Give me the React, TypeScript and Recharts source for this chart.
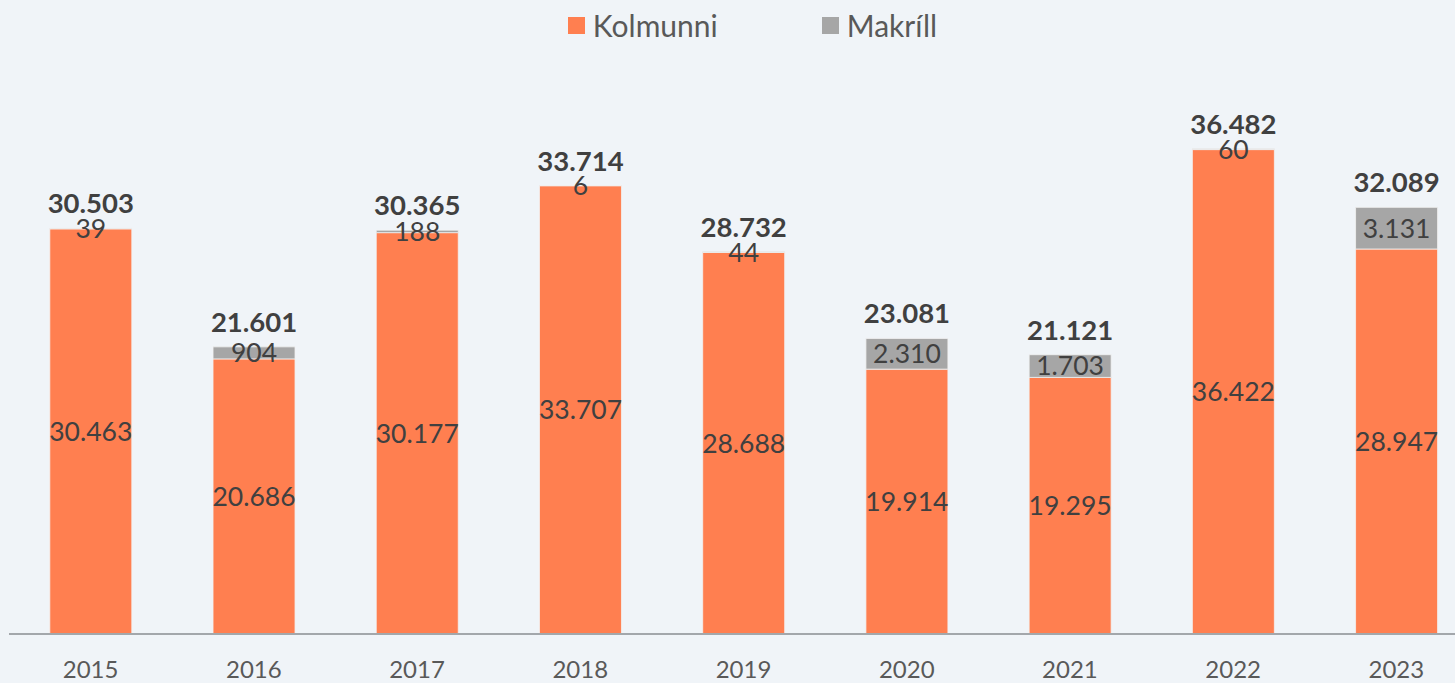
import { BarChart, Bar, XAxis, YAxis, LabelList } from "recharts";

const YEARS = ["2015", "2016", "2017", "2018", "2019", "2020", "2021", "2022", "2023"];
const KOLMUNNI = [30463, 20686, 30177, 33707, 28688, 19914, 19295, 36422, 28947];
const MAKRILL = [39, 904, 188, 6, 44, 2310, 1703, 60, 3131];
const TOTALS = [30503, 21601, 30365, 33714, 28732, 23081, 21121, 36482, 32089];

const ORANGE = "#FF7F50";
const GREY = "#A6A6A6";
const FONT = "Lato, 'Noto Sans', sans-serif";

const fmt = (v: number) => String(v).replace(/\B(?=(\d{3})+(?!\d))/g, ".");

const data = YEARS.map((year, i) => ({
  year,
  kolmunni: KOLMUNNI[i],
  makrill: MAKRILL[i],
  total: TOTALS[i],
}));

const TotalLabel = (props: any) => {
  const { x, y, width, value } = props;
  return (
    <text
      x={x + width / 2}
      y={y - 15}
      textAnchor="middle"
      fontFamily={FONT}
      fontSize={27.5}
      fontWeight={700}
      fill="#404040"
    >
      {fmt(value)}
    </text>
  );
};

const YearTick = (props: any) => {
  const { x, y, payload } = props;
  return (
    <text
      x={x}
      y={y + 32}
      textAnchor="middle"
      dominantBaseline="central"
      fontFamily={FONT}
      fontSize={24}
      fill="#595959"
    >
      {payload.value}
    </text>
  );
};

const LegendBox = () => (
  <div
    style={{
      position: "absolute",
      top: 7,
      left: 50,
      width: 1405,
      display: "flex",
      justifyContent: "center",
      gap: 104,
      fontFamily: FONT,
      fontSize: 30,
      color: "#595959",
    }}
  >
    {[
      { name: "Kolmunni", color: ORANGE },
      { name: "Makríll", color: GREY },
    ].map((item) => (
      <div key={item.name} style={{ display: "flex", alignItems: "center" }}>
        <span
          style={{
            display: "inline-block",
            width: 17,
            height: 17,
            background: item.color,
            marginRight: 8,
          }}
        />
        {item.name}
      </div>
    ))}
  </div>
);

export default function App() {
  return (
    <div
      style={{
        position: "fixed",
        left: 0,
        top: 0,
        width: 1455,
        height: 683,
        overflow: "hidden",
        background: "#F0F4F8",
      }}
    >
      <LegendBox />
      <BarChart
        width={1480}
        height={683}
        data={data}
        margin={{ top: 102, right: 2, left: 9, bottom: 0 }}
        barCategoryGap="25%"
      >
        <XAxis
          dataKey="year"
          height={49}
          tickLine={false}
          tickSize={0}
          axisLine={{ stroke: "#A3A7AB", strokeWidth: 2 }}
          tick={<YearTick />}
          interval={0}
        />
        <YAxis hide domain={[0, 40000]} />
        <Bar
          dataKey="kolmunni"
          stackId="a"
          fill={ORANGE}
          stroke="#F3F3F3"
          strokeWidth={0.8}
          isAnimationActive={false}
        >
          <LabelList
            dataKey="kolmunni"
            position="center"
            formatter={(v: any) => fmt(v)}
            fontFamily={FONT}
            fontSize={26.5}
            fill="#404040"
          />
        </Bar>
        <Bar
          dataKey="makrill"
          stackId="a"
          fill={GREY}
          stroke="#F3F3F3"
          strokeWidth={0.8}
          isAnimationActive={false}
        >
          <LabelList
            dataKey="makrill"
            position="center"
            formatter={(v: any) => fmt(v)}
            fontFamily={FONT}
            fontSize={26.5}
            fill="#404040"
          />
          <LabelList dataKey="total" content={<TotalLabel />} />
        </Bar>
      </BarChart>
    </div>
  );
}
